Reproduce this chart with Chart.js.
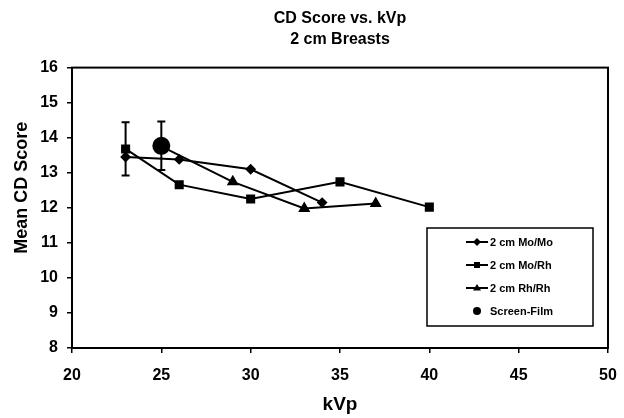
<!DOCTYPE html>
<html>
<head>
<meta charset="utf-8">
<script src="https://cdn.jsdelivr.net/npm/chart.js@4.4.1/dist/chart.umd.min.js"></script>
<style>
  html, body { margin: 0; padding: 0; background: #fff; }
  #wrap { width: 624px; height: 418px; }
</style>
</head>
<body>
<div id="wrap"><canvas id="cdChart" width="624" height="418"></canvas></div>
<script>
// values
const titleLines = ["CD Score vs. kVp", "2 cm Breasts"];
const xTitle = "kVp";
const yTitle = "Mean CD Score";
const xTicks = [20, 25, 30, 35, 40, 45, 50];

const kvpMoMo = [23, 26, 30, 34];
const scoreMoMo = [13.45, 13.38, 13.1, 12.15];

const kvpMoRh = [23, 26, 30, 35, 40];
const scoreMoRh = [13.68, 12.66, 12.25, 12.74, 12.02];
const errMoRh = [0.76, 0, 0, 0, 0];

const kvpRhRh = [25, 29, 33, 37];
const scoreRhRh = [13.75, 12.74, 11.98, 12.12];

const kvpFilm = [25];
const scoreFilm = [13.77];
const errFilm = [0.69];

const FONT = "'Liberation Sans', Arial, sans-serif";

function toPoints(xs, ys, errs) {
  return xs.map((x, i) => ({ x: x, y: ys[i], err: errs ? errs[i] : 0 }));
}

// error bars, drawn through the scales
const errorBars = {
  id: "errorBars",
  afterDatasetsDraw(chart) {
    const ctx = chart.ctx;
    const xs = chart.scales.x, ys = chart.scales.y;
    ctx.save();
    ctx.strokeStyle = "#000";
    ctx.lineWidth = 2;
    chart.data.datasets.forEach(ds => {
      ds.data.forEach(p => {
        if (!p.err) return;
        const px = xs.getPixelForValue(p.x);
        const top = ys.getPixelForValue(p.y + p.err);
        const bot = ys.getPixelForValue(p.y - p.err);
        ctx.beginPath();
        ctx.moveTo(px, top); ctx.lineTo(px, bot);
        ctx.moveTo(px - 4, top); ctx.lineTo(px + 4, top);
        ctx.moveTo(px - 4, bot); ctx.lineTo(px + 4, bot);
        ctx.stroke();
      });
    });
    ctx.restore();
  }
};

// box round the plot area, plus the rotated y title (sits a bit above centre in the original)
const plotFrame = {
  id: "plotFrame",
  beforeDatasetsDraw(chart) {
    const a = chart.chartArea, ctx = chart.ctx;
    ctx.save();
    ctx.strokeStyle = "#000";
    ctx.lineWidth = 2;
    ctx.strokeRect(a.left, a.top, a.right - a.left, a.bottom - a.top);
    ctx.translate(22, (a.top + a.bottom) / 2 - 20);
    ctx.rotate(-Math.PI / 2);
    ctx.fillStyle = "#000";
    ctx.font = "bold 18px " + FONT;
    ctx.textAlign = "center";
    ctx.textBaseline = "middle";
    ctx.fillText(yTitle, 0, 0);
    ctx.restore();
  }
};

function drawMarker(ctx, style, r, x, y) {
  ctx.beginPath();
  if (style === "rectRot") {
    ctx.moveTo(x, y - r); ctx.lineTo(x + r, y); ctx.lineTo(x, y + r); ctx.lineTo(x - r, y);
  } else if (style === "rect") {
    ctx.rect(x - r * 0.75, y - r * 0.75, r * 1.5, r * 1.5);
  } else if (style === "triangle") {
    ctx.moveTo(x, y - r); ctx.lineTo(x + r, y + r * 0.6); ctx.lineTo(x - r, y + r * 0.6);
  } else {
    ctx.arc(x, y, r, 0, Math.PI * 2);
  }
  ctx.closePath();
  ctx.fill();
}

// legend box inside the plot, lower right
const innerLegend = {
  id: "innerLegend",
  afterDraw(chart) {
    const a = chart.chartArea, ctx = chart.ctx;
    const w = 166, h = 98;
    const bx = a.right - 15 - w, by = a.bottom - 22 - h;
    ctx.save();
    ctx.fillStyle = "#fff";
    ctx.fillRect(bx, by, w, h);
    ctx.strokeStyle = "#000";
    ctx.lineWidth = 1.5;
    ctx.strokeRect(bx, by, w, h);
    ctx.font = "bold 11px " + FONT;
    ctx.textBaseline = "middle";
    chart.data.datasets.forEach((ds, i) => {
      const y = by + 14 + i * 23;
      const mx = bx + 50;
      ctx.fillStyle = "#000";
      if (ds.showLine !== false) {
        ctx.strokeStyle = "#000";
        ctx.lineWidth = 2;
        ctx.beginPath();
        ctx.moveTo(bx + 39, y); ctx.lineTo(bx + 61, y);
        ctx.stroke();
      }
      drawMarker(ctx, ds.pointStyle, 4, mx, y);
      ctx.fillText(ds.label, bx + 63, y + 1);
    });
    ctx.restore();
  }
};

const lineStyle = { borderColor: "#000", backgroundColor: "#000", borderWidth: 2,
  pointBorderColor: "#000", pointBackgroundColor: "#000", showLine: true, tension: 0 };

new Chart(document.getElementById("cdChart"), {
  type: "scatter",
  data: {
    datasets: [
      Object.assign({ label: "2 cm Mo/Mo", data: toPoints(kvpMoMo, scoreMoMo), pointStyle: "rectRot", pointRadius: 4 }, lineStyle),
      Object.assign({ label: "2 cm Mo/Rh", data: toPoints(kvpMoRh, scoreMoRh, errMoRh), pointStyle: "rect", pointRadius: 5 }, lineStyle),
      Object.assign({ label: "2 cm Rh/Rh", data: toPoints(kvpRhRh, scoreRhRh), pointStyle: "triangle", pointRadius: 5 }, lineStyle),
      Object.assign({}, lineStyle, { label: "Screen-Film", data: toPoints(kvpFilm, scoreFilm, errFilm), pointStyle: "circle", pointRadius: 8, showLine: false })
    ]
  },
  options: {
    responsive: false,
    animation: false,
    layout: { padding: { left: 4, right: 16, top: 0, bottom: 0 } },
    plugins: {
      legend: { display: false },
      tooltip: { enabled: false },
      title: {
        display: true,
        text: titleLines,
        fullSize: false,
        color: "#000",
        font: { family: FONT, size: 16, weight: "bold", lineHeight: 1.3 },
        padding: { top: 8, bottom: 18 }
      }
    },
    scales: {
      x: {
        type: "linear",
        min: 20, max: 50,
        afterBuildTicks: s => { s.ticks = xTicks.map(v => ({ value: v })); },
        afterFit: s => { s.height = 70; s.paddingLeft = 0; s.paddingRight = 0; },
        grid: { display: true, drawOnChartArea: false, tickLength: 5, color: "#000", lineWidth: 1.5 },
        border: { color: "#000", width: 2 },
        ticks: { color: "#000", padding: 13, font: { family: FONT, size: 16, weight: "bold" } },
        title: { display: true, text: xTitle, color: "#000", padding: { top: 8, bottom: 2 },
                 font: { family: FONT, size: 19, weight: "bold" } }
      },
      y: {
        min: 8, max: 16,
        afterFit: s => { s.width = 68; },
        ticks: { stepSize: 1, color: "#000", padding: 9, font: { family: FONT, size: 16, weight: "bold" } },
        grid: { display: true, drawOnChartArea: false, tickLength: 5, color: "#000", lineWidth: 1.5 },
        border: { color: "#000", width: 2 }
      }
    }
  },
  plugins: [plotFrame, errorBars, innerLegend]
});
</script>
</body>
</html>
